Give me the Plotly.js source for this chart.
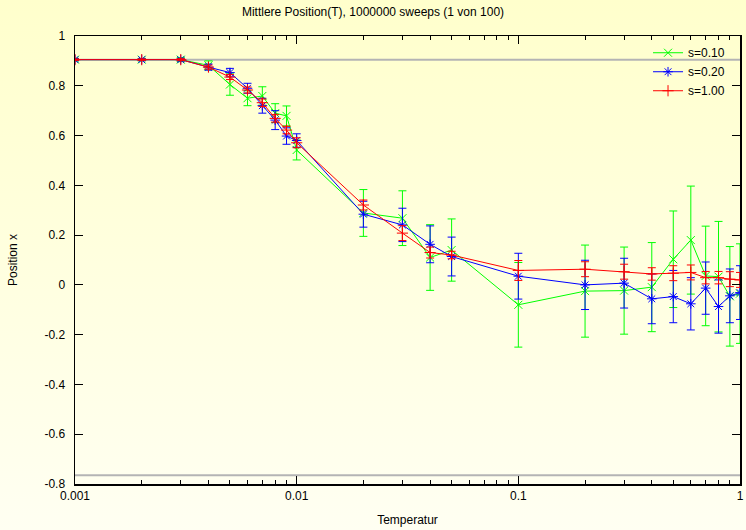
<!DOCTYPE html>
<html>
<head>
<meta charset="utf-8">
<script src="https://cdn.plot.ly/plotly-3.0.1.min.js"></script>
<style>
html,body{margin:0;padding:0;}
body{width:746px;height:530px;background:linear-gradient(to bottom,#ffffcc 0%,#fffff2 100%);}
#chart{width:746px;height:530px;}
</style>
</head>
<body>
<div id="chart"></div>
<script>
// Temperature values
const temps = [0.001,0.002,0.003,0.004,0.005,0.006,0.007,0.008,0.009,0.01,0.02,0.03,0.04,0.05,0.1,0.2,0.3,0.4,0.5,0.6,0.7,0.8,0.9,1.0];

// s=0.10
const posS010 = [0.905,0.905,0.905,0.882,0.805,0.75,0.759,0.69,0.679,0.542,0.289,0.268,0.11,0.14,-0.08,-0.025,-0.023,-0.009,0.103,0.18,0.036,0.033,-0.046,-0.035];
const errS010 = [0.005,0.005,0.008,0.018,0.043,0.03,0.037,0.038,0.04,0.04,0.094,0.11,0.132,0.125,0.17,0.185,0.175,0.179,0.194,0.217,0.2,0.222,0.2,0.2];

// s=0.20
const posS020 = [0.905,0.905,0.905,0.875,0.853,0.79,0.72,0.662,0.598,0.58,0.284,0.241,0.163,0.114,0.035,0.0,0.007,-0.056,-0.047,-0.076,-0.013,-0.087,-0.044,-0.031];
const errS020 = [0.004,0.004,0.005,0.012,0.017,0.02,0.03,0.038,0.033,0.027,0.052,0.067,0.074,0.078,0.092,0.099,0.1,0.1,0.105,0.105,0.105,0.107,0.108,0.108];

// s=1.00
const posS100 = [0.905,0.905,0.905,0.875,0.835,0.783,0.732,0.669,0.622,0.571,0.321,0.208,0.13,0.12,0.058,0.063,0.053,0.044,0.047,0.05,0.029,0.029,0.023,0.02];
const errS100 = [0.003,0.003,0.004,0.008,0.01,0.012,0.015,0.015,0.015,0.02,0.02,0.03,0.022,0.015,0.04,0.03,0.03,0.025,0.03,0.03,0.025,0.025,0.03,0.03];

// reference lines
const refLines = [0.905, -0.765];

// ticks
const xTickVals = [0.001, 0.01, 0.1, 1];
const xTickText = ['0.001', '0.01', '0.1', '1'];
const xMinorVals = [0.002,0.003,0.004,0.005,0.006,0.007,0.008,0.009,0.02,0.03,0.04,0.05,0.06,0.07,0.08,0.09,0.2,0.3,0.4,0.5,0.6,0.7,0.8,0.9];
const yTickVals = [1,0.8,0.6,0.4,0.2,0,-0.2,-0.4,-0.6,-0.8];
const yTickText = ['1','0.8','0.6','0.4','0.2','0','-0.2','-0.4','-0.6','-0.8'];

function series(name, y, err, color, symbol) {
  return {
    type: 'scatter', mode: 'lines+markers', name: name,
    x: temps, y: y,
    line: {color: color, width: 1},
    marker: {symbol: symbol, size: 8, color: color, line: {color: color, width: 1}},
    error_y: {type: 'data', array: err, visible: true, color: color, thickness: 1, width: 4}
  };
}

const data = [
  series('s=0.10', posS010, errS010, '#00ff00', 'x-thin-open'),
  series('s=0.20', posS020, errS020, '#0000ff', 'asterisk-open'),
  series('s=1.00', posS100, errS100, '#ff0000', 'cross-thin-open')
];

const shapes = refLines.map(v => ({
  type: 'line', xref: 'paper', x0: 0, x1: 1, yref: 'y', y0: v, y1: v,
  line: {color: '#b4b4b4', width: 2}, layer: 'below'
}));

const layout = {
  width: 746, height: 530,
  margin: {l: 75, r: 6, t: 36, b: 46},
  paper_bgcolor: 'rgba(0,0,0,0)',
  plot_bgcolor: 'rgba(0,0,0,0)',
  font: {family: 'Liberation Sans, Arial, sans-serif', size: 12, color: '#000'},
  title: {text: 'Mittlere Position(T), 1000000 sweeps (1 von 100)', x: 0.5, xanchor: 'center', y: 0.985, yanchor: 'top', font: {size: 12}},
  showlegend: true,
  legend: {x: 0.985, xanchor: 'right', y: 0.995, yanchor: 'top', bgcolor: 'rgba(0,0,0,0)', font: {size: 12}, itemwidth: 30, tracegroupgap: 0},
  xaxis: {
    type: 'log', range: [-3, 0],
    tickmode: 'array', tickvals: xTickVals, ticktext: xTickText,
    ticks: 'inside', ticklen: 8, tickwidth: 1, tickcolor: '#000',
    minor: {tickmode: 'array', tickvals: xMinorVals, ticks: 'inside', ticklen: 4, tickwidth: 1, tickcolor: '#000'},
    showline: true, linecolor: '#000', linewidth: 1.5, mirror: 'ticks',
    showgrid: false, zeroline: false,
    title: {text: 'Temperatur', standoff: 13, font: {size: 12}}
  },
  yaxis: {
    range: [-0.8, 1],
    tickmode: 'array', tickvals: yTickVals, ticktext: yTickText,
    ticks: 'inside', ticklen: 8, tickwidth: 1, tickcolor: '#000',
    showline: true, linecolor: '#000', linewidth: 1.5, mirror: 'ticks',
    showgrid: false, zeroline: false,
    ticklabelstandoff: 6,
    title: {text: 'Position x', standoff: 24, font: {size: 12}}
  },
  shapes: shapes
};

Plotly.newPlot('chart', data, layout, {displayModeBar: false, staticPlot: true});
</script>
</body>
</html>
